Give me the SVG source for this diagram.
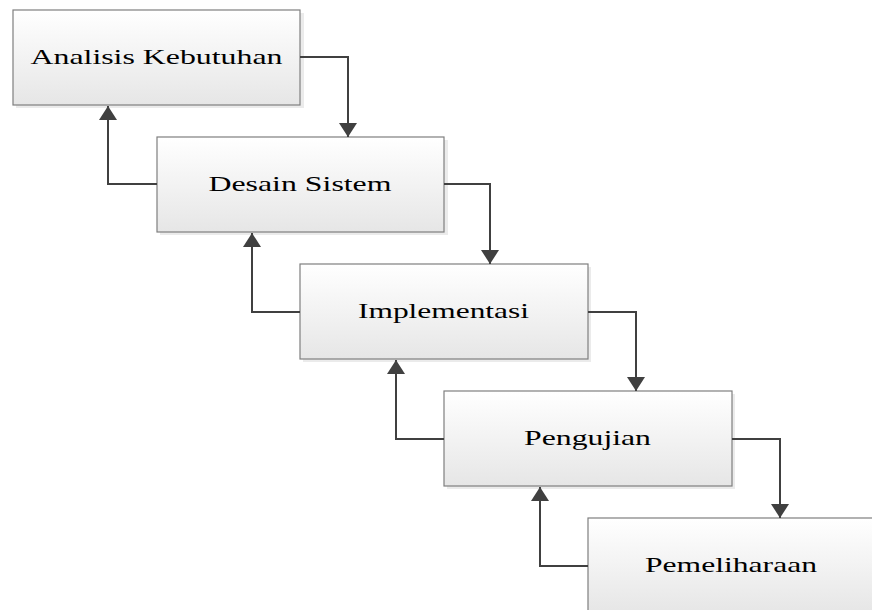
<svg xmlns="http://www.w3.org/2000/svg" width="872" height="610" viewBox="0 0 872 610">
<defs>
<linearGradient id="g" x1="0" y1="0" x2="0" y2="1">
<stop offset="0" stop-color="#ffffff"/>
<stop offset="1" stop-color="#e6e6e6"/>
</linearGradient>
<marker id="au" viewBox="0 0 18 14" markerWidth="18" markerHeight="14" refX="9" refY="0" orient="0" markerUnits="userSpaceOnUse">
<path d="M9,0 L18,14 L0,14 Z" fill="#404040"/>
</marker>
<marker id="ad" viewBox="0 0 18 14" markerWidth="18" markerHeight="14" refX="9" refY="14" orient="0" markerUnits="userSpaceOnUse">
<path d="M0,0 L18,0 L9,14 Z" fill="#404040"/>
</marker>
</defs>
<style>
.sh{fill:#ebebeb;}
.bx{fill:url(#g);stroke:#7f7f7f;stroke-width:1.2;}
.t{font-family:"Liberation Serif","Times New Roman",serif;font-size:21px;fill:#000;text-anchor:middle;}
.c{fill:none;stroke:#404040;stroke-width:2;}
</style>
<rect width="872" height="610" fill="#ffffff"/>
<g id="n1">
<rect class="sh" x="16" y="13" width="288" height="95"/>
<rect class="bx" x="13" y="10" width="287" height="95"/>
<text class="t" x="156.5" y="64" textLength="252" lengthAdjust="spacingAndGlyphs">Analisis Kebutuhan</text>
</g>
<g id="n2">
<rect class="sh" x="160" y="140" width="288" height="95"/>
<rect class="bx" x="157" y="137" width="287" height="95"/>
<text class="t" x="300" y="191" textLength="183" lengthAdjust="spacingAndGlyphs">Desain Sistem</text>
</g>
<g id="n3">
<rect class="sh" x="303" y="267" width="288" height="95"/>
<rect class="bx" x="300" y="264" width="288" height="95"/>
<text class="t" x="443.5" y="318" textLength="171" lengthAdjust="spacingAndGlyphs">Implementasi</text>
</g>
<g id="n4">
<rect class="sh" x="447" y="394" width="288" height="95"/>
<rect class="bx" x="444" y="391" width="288" height="95"/>
<text class="t" x="587.5" y="445" textLength="127" lengthAdjust="spacingAndGlyphs">Pengujian</text>
</g>
<g id="n5">
<rect class="sh" x="591" y="521" width="288" height="95"/>
<rect class="bx" x="588" y="518" width="288" height="95"/>
<text class="t" x="731" y="572" textLength="172" lengthAdjust="spacingAndGlyphs">Pemeliharaan</text>
</g>
<g id="connectors">
<polyline class="c" points="300,57 348,57 348,137" marker-end="url(#ad)"/>
<polyline class="c" points="157,184 108,184 108,106" marker-end="url(#au)"/>
<polyline class="c" points="444,184 490,184 490,264" marker-end="url(#ad)"/>
<polyline class="c" points="300,312 252,312 252,233" marker-end="url(#au)"/>
<polyline class="c" points="588,312 636,312 636,391" marker-end="url(#ad)"/>
<polyline class="c" points="444,439 396,439 396,360" marker-end="url(#au)"/>
<polyline class="c" points="732,439 780,439 780,518" marker-end="url(#ad)"/>
<polyline class="c" points="588,566 540,566 540,487" marker-end="url(#au)"/>
</g>
</svg>
